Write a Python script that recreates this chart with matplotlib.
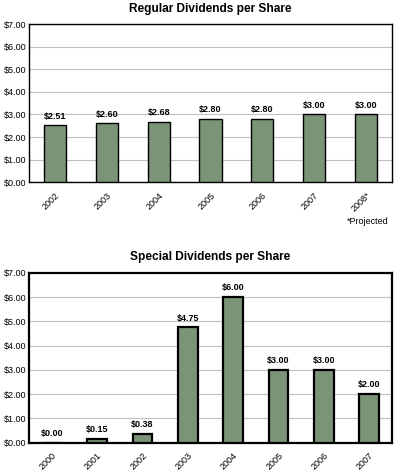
import matplotlib
matplotlib.use('Agg')
import matplotlib.pyplot as plt
import numpy as np

plt.rcParams['font.family'] = ['Liberation Sans', 'DejaVu Sans']

regular_years = ['2002', '2003', '2004', '2005', '2006', '2007', '2008*']
regular_values = [2.51, 2.60, 2.68, 2.80, 2.80, 3.00, 3.00]

special_years = ['2000', '2001', '2002', '2003', '2004', '2005', '2006', '2007']
special_values = [0.00, 0.15, 0.38, 4.75, 6.00, 3.00, 3.00, 2.00]

yticks = np.arange(0, 8, 1)
bar_color = '#7b9478'


def draw(ax, years, values, title, edge_lw, frame_lw):
    x = np.arange(len(years))
    ax.bar(x, values, width=0.43, color=bar_color, edgecolor='black',
           linewidth=edge_lw, zorder=3)
    for xi, v in zip(x, values):
        ax.text(xi, v + 0.2, f'${v:.2f}', ha='center', va='bottom',
                fontsize=6.5, fontweight='bold')
    ax.set_xlim(-0.5, len(years) - 0.5)
    ax.set_ylim(0, 7)
    ax.set_yticks(yticks)
    ax.set_yticklabels([f'${t:.2f}' for t in yticks], fontsize=6.5)
    ax.set_xticks(x)
    ax.set_xticklabels(years, rotation=45, ha='right', fontsize=6.5,
                       rotation_mode='anchor')
    ax.tick_params(axis='x', length=0, pad=6)
    ax.tick_params(axis='y', length=0, pad=2)
    ax.yaxis.grid(True, color='#c0c0c0', linewidth=0.8, zorder=0)
    for s in ax.spines.values():
        s.set_linewidth(frame_lw)
    ax.set_title(title, fontsize=8.6, fontweight='bold', pad=9)


fig = plt.figure(figsize=(3.95, 4.72), dpi=100)
ax1 = fig.add_axes([0.074, 0.614, 0.918, 0.335])
ax2 = fig.add_axes([0.074, 0.062, 0.918, 0.36])

draw(ax1, regular_years, regular_values, 'Regular Dividends per Share', 1.0, 1.0)
draw(ax2, special_years, special_values, 'Special Dividends per Share', 1.6, 1.6)

fig.text(0.985, 0.53, '*Projected', ha='right', va='center', fontsize=6.5)

fig.savefig('out.png', dpi=100)
